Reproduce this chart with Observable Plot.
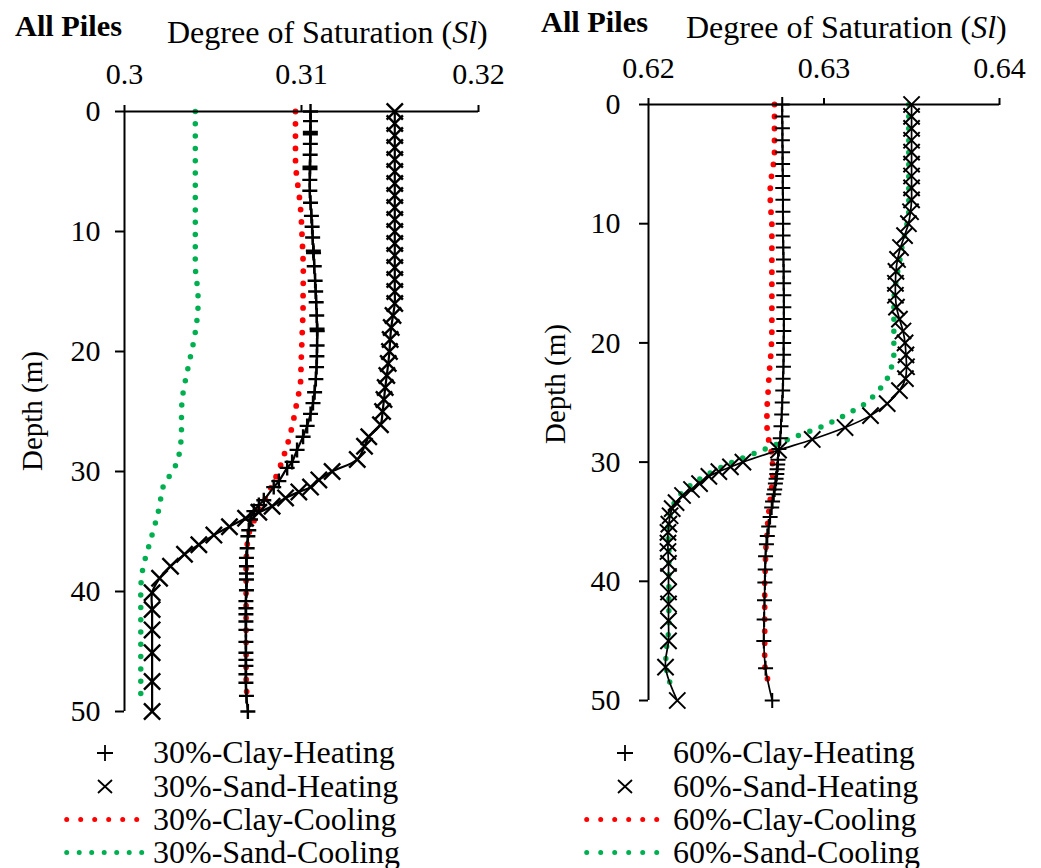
<!DOCTYPE html>
<html><head><meta charset="utf-8">
<script src="https://cdn.jsdelivr.net/npm/d3@7"></script>
<script src="https://cdn.jsdelivr.net/npm/@observablehq/plot@0.6"></script>
<style>
body{margin:0;background:#fff;}
#root{position:relative;width:1041px;height:868px;overflow:hidden;background:#fff;}
#root > *{position:absolute;}
</style></head><body><div id="root"></div>
<script>
// ---------------- DATA ----------------
// x tick labels
const ticksLeft = [0.30, 0.31, 0.32];
const ticksRight = [0.62, 0.63, 0.64];
const depthTicks = [0, 10, 20, 30, 40, 50];
const legendLeft = ["30%-Clay-Heating", "30%-Sand-Heating", "30%-Clay-Cooling", "30%-Sand-Cooling"];
const legendRight = ["60%-Clay-Heating", "60%-Sand-Heating", "60%-Clay-Cooling", "60%-Sand-Cooling"];

// 30% panel
const clay30HeatDepth = [0,0.8,1.7,1.9,2.7,3.6,4.6,4.8,5.7,6.6,7.6,8.7,9.6,10.5,11.6,11.8,12.9,14.1,15,15.9,17,18.1,18.3,19.5,20.4,21.3,22.3,23.4,24.3,25.2,26.2,27.1,28.2,29.2,29.7,30.8,31.3,32.4,32.8,33.3,34,34.9,35.4,36.4,37.2,37.9,38.5,39,39.9,40.8,41.4,41.9,42.5,43.2,44.2,45.1,45.7,46.2,46.9,47.6,48.7,50];
const clay30Heat = [0.31051,0.31051,0.3105,0.3105,0.3105,0.31049,0.31048,0.31048,0.31047,0.31047,0.31051,0.31056,0.3106,0.31063,0.31067,0.31068,0.31072,0.31077,0.3108,0.31083,0.31086,0.31088,0.31089,0.31088,0.31087,0.31085,0.31081,0.31074,0.31065,0.31051,0.31032,0.31009,0.30975,0.30947,0.30919,0.30872,0.30843,0.30787,0.30759,0.30731,0.30712,0.30702,0.30697,0.30693,0.30689,0.30689,0.30689,0.30689,0.30689,0.30686,0.30686,0.30686,0.30686,0.30686,0.30686,0.30686,0.30686,0.30686,0.30686,0.30686,0.30689,0.30697];
const sand30HeatDepth = [0,1,2,3,4,5,6,7,8,9,10,11,12,13,14,15,16,17,18,19,20,21,22,23,24,25,26.1,27.1,27.9,29,30,30.7,31.3,31.7,32.2,32.9,33.4,33.9,34.6,35.3,36.1,36.9,37.9,38.9,40.1,41.5,43.2,45.1,47.5,50];
const sand30Heat = [0.31527,0.31527,0.31527,0.31527,0.31527,0.31527,0.31527,0.31527,0.31527,0.31527,0.31527,0.31527,0.31527,0.31527,0.31527,0.31527,0.31527,0.31517,0.31507,0.31501,0.31497,0.3149,0.31482,0.31473,0.31466,0.31458,0.31446,0.3138,0.31356,0.31315,0.31173,0.31098,0.31051,0.30985,0.3091,0.30834,0.30759,0.30684,0.30593,0.30505,0.3042,0.30339,0.3026,0.30198,0.30156,0.30156,0.30156,0.30156,0.30156,0.30156];
const coolDepth = [0,1,2,3,4,5,6,7,8,9,10,11,12,13,14,15,16,17,18,19,20,21,22,23,24,25,26,27,28,29,30,31,32,33,34,35,36,37,38,39,40,41,42,43,44,45,46,47,48,49];
const clay30Cool = [0.30966,0.30966,0.30966,0.30966,0.30966,0.3097,0.30978,0.30987,0.30994,0.30999,0.31002,0.31005,0.31008,0.3101,0.3101,0.31009,0.31009,0.31008,0.31005,0.31003,0.31,0.30998,0.30996,0.30992,0.30976,0.30965,0.3095,0.30935,0.30915,0.30893,0.30869,0.30838,0.30805,0.3077,0.30735,0.30706,0.30694,0.30689,0.30687,0.30687,0.30687,0.30687,0.30687,0.30687,0.30687,0.30687,0.30687,0.30687,0.30689,0.30693];
const sand30Cool = [0.304,0.304,0.304,0.304,0.304,0.304,0.304,0.304,0.304,0.304,0.304,0.304,0.304,0.304,0.30407,0.30414,0.30416,0.30412,0.30404,0.30393,0.30379,0.30364,0.3035,0.30336,0.30326,0.30322,0.30322,0.30321,0.30315,0.30301,0.30272,0.30225,0.30208,0.30196,0.3018,0.30161,0.30142,0.30122,0.30105,0.30095,0.30092,0.30092,0.30092,0.30092,0.30092,0.30092,0.30092,0.30092,0.30092,0.30092];

// 60% panel
const clay60HeatDepth = [0,1,2,3,4,5,6,7,8,9,10,11,12,13,14,15,16,17,18,19,20,21,22,23,24,25,26,27,28,28.9,29.8,30.2,30.6,31,31.4,31.8,32.3,32.7,33.3,33.8,34.6,35.4,36.2,36.9,37.9,39,40.1,41.6,43.2,45,47.3,50];
const clay60Heat = [0.62762,0.62762,0.62763,0.62763,0.62764,0.62764,0.62765,0.62765,0.62766,0.62766,0.62767,0.62767,0.62768,0.62769,0.6277,0.6277,0.62771,0.62771,0.62771,0.62771,0.6277,0.6277,0.62769,0.62767,0.62765,0.62762,0.62759,0.62755,0.62751,0.62743,0.62738,0.62736,0.62733,0.62731,0.62727,0.62723,0.62719,0.62714,0.62707,0.62702,0.62693,0.62685,0.62677,0.62672,0.62667,0.62665,0.62663,0.62661,0.62659,0.62657,0.62667,0.62705];
const sand60HeatDepth = [0,1,2,3,4,5,6,7,8,9,10,11,12,13,14,15,16,17,18,19,20,21,22,23,24,25.1,26.1,27.1,28.1,29,30,30.4,30.8,31.2,31.8,32.3,32.8,33.4,33.9,34.5,35.2,35.9,36.8,37.5,38.5,39.6,40.9,41.9,43.3,45,47.2,50];
const sand60Heat = [0.63499,0.63499,0.63499,0.63499,0.63499,0.63499,0.63499,0.63499,0.63499,0.63493,0.63481,0.63459,0.63436,0.63419,0.6341,0.63407,0.63407,0.63413,0.6343,0.6345,0.63462,0.63467,0.6347,0.63464,0.6343,0.6336,0.63265,0.6312,0.62933,0.62741,0.62538,0.62467,0.62401,0.62344,0.62291,0.62245,0.62194,0.62157,0.62135,0.62123,0.62116,0.62111,0.62111,0.62111,0.62114,0.62114,0.62114,0.62114,0.62114,0.62114,0.62097,0.62164];
const clay60Cool = [0.62718,0.62718,0.62718,0.62718,0.62718,0.62712,0.62701,0.62694,0.62694,0.62698,0.62703,0.62703,0.62703,0.62703,0.62703,0.62703,0.62703,0.62703,0.62703,0.62703,0.62701,0.62697,0.62691,0.62686,0.62682,0.62677,0.62675,0.62675,0.62683,0.62698,0.62706,0.62708,0.62703,0.62695,0.62687,0.6268,0.62676,0.6267,0.62667,0.62665,0.62662,0.62662,0.62662,0.62662,0.62662,0.62662,0.62662,0.62662,0.62675,0.62693];
const sand60Cool = [0.63483,0.63483,0.63483,0.63483,0.63483,0.63483,0.63483,0.63483,0.63483,0.63483,0.63473,0.63459,0.63444,0.63433,0.6342,0.63409,0.634,0.63398,0.63398,0.63398,0.63398,0.63398,0.63385,0.6336,0.63311,0.63242,0.63128,0.62991,0.62813,0.6265,0.62479,0.62342,0.62235,0.62165,0.62131,0.62116,0.6211,0.62116,0.62116,0.62116,0.62116,0.62116,0.62116,0.62116,0.62116,0.62108,0.621,0.621,0.62111,0.62135];

// ---------------- DRAW ----------------
const FONT = "'Liberation Serif','Times New Roman',serif";
const RED = "#FF0000", GREEN = "#00B050";
const rows = (ds, vs) => ds.map((d, i) => ({depth: d, value: vs[i]}));
const plusSym = {draw(c, size) {const r = Math.sqrt(size / Math.PI); c.moveTo(-r, 0); c.lineTo(r, 0); c.moveTo(0, -r); c.lineTo(0, r);}};
const timesSym = {draw(c, size) {const r = Math.sqrt(size / Math.PI) * 0.72; c.moveTo(-r, -r); c.lineTo(r, r); c.moveTo(-r, r); c.lineTo(r, -r);}};
const fmt = d => String(+d.toFixed(2));

function panel(o) {
  const clayH = rows(o.clayHD, o.clayH), sandH = rows(o.sandHD, o.sandH);
  const clayC = rows(coolDepth, o.clayC), sandC = rows(coolDepth, o.sandC);
  return Plot.plot({
    width: o.width, height: o.height,
    marginLeft: o.ml, marginRight: o.mr, marginTop: o.mt, marginBottom: o.mb,
    style: {fontFamily: FONT, fontSize: "30px", background: "transparent", color: "#000", overflow: "visible"},
    x: {domain: o.domain},
    y: {domain: [0, 50], reverse: true},
    marks: [
      Plot.line(clayC, {x: "value", y: "depth", stroke: RED, strokeWidth: 5.8, strokeDasharray: o.dashC, strokeLinecap: "round", curve: "catmull-rom"}),
      Plot.line(sandC, {x: "value", y: "depth", stroke: GREEN, strokeWidth: 5.5, strokeDasharray: o.dashS, strokeLinecap: "round", curve: "catmull-rom"}),
      Plot.line(clayH, {x: "value", y: "depth", stroke: "#000", strokeWidth: o.lw, curve: "catmull-rom"}),
      Plot.dot(clayH, {x: "value", y: "depth", symbol: plusSym, r: 7.5, stroke: "#000", fill: "none", strokeWidth: o.mw}),
      Plot.line(sandH, {x: "value", y: "depth", stroke: "#000", strokeWidth: o.lw, curve: "catmull-rom"}),
      Plot.dot(sandH, {x: "value", y: "depth", symbol: timesSym, r: 11.3, stroke: "#000", fill: "none", strokeWidth: o.mw}),
      Plot.ruleY([0], {strokeWidth: 2}),
      Plot.ruleX([o.domain[0]], {strokeWidth: 2}),
      Plot.axisX(o.ticks, {anchor: "top", tickSize: 7, tickPadding: o.xpad, tickFormat: fmt, fontSize: 30, strokeWidth: 2, label: null}),
      Plot.axisY(depthTicks, {anchor: "left", tickSize: 9, tickPadding: o.ypad, fontSize: 30, strokeWidth: 2, label: null})
    ]
  });
}

const root = document.getElementById("root");
const left = panel({width: 520, height: 730, ml: 124, mr: 42, mt: 111, mb: 19, domain: [0.30, 0.32], ticks: ticksLeft,
  clayHD: clay30HeatDepth, clayH: clay30Heat, sandHD: sand30HeatDepth, sandH: sand30Heat, clayC: clay30Cool, sandC: sand30Cool,
  lw: 2.2, mw: 2.4, xpad: 21, ypad: 15, dashC: "0 12.3", dashS: "0 12.3"});
left.style.left = "0px"; left.style.top = "0px";
root.appendChild(left);
const right = panel({width: 521, height: 720, ml: 128, mr: 42, mt: 104, mb: 20, domain: [0.62, 0.64], ticks: ticksRight,
  clayHD: clay60HeatDepth, clayH: clay60Heat, sandHD: sand60HeatDepth, sandH: sand60Heat, clayC: clay60Cool, sandC: sand60Cool,
  lw: 1.7, mw: 2, xpad: 20, ypad: 19, dashC: "0 12", dashS: "0 12"});
right.style.left = "520px"; right.style.top = "0px";
root.appendChild(right);

// ---------------- TEXT & LEGEND OVERLAY ----------------
const ov = d3.select(root).append("svg").attr("width", 1041).attr("height", 868)
  .style("left", "0px").style("top", "0px").style("font-family", FONT);

function heading(x0, base0, xt, baset) {
  ov.append("text").attr("x", x0).attr("y", base0).attr("font-weight", "bold").attr("font-size", 29)
    .attr("textLength", 107).attr("lengthAdjust", "spacingAndGlyphs").text("All Piles");
  const t = ov.append("text").attr("x", xt).attr("y", baset).attr("font-size", 32);
  t.append("tspan").text("Degree of Saturation (");
  t.append("tspan").attr("font-style", "italic").text("Sl");
  t.append("tspan").text(")");
}
heading(15, 36, 167, 43);
heading(541, 32, 686, 38);

function ylab(x, y) {
  ov.append("text").attr("transform", `translate(${x},${y}) rotate(-90)`).attr("text-anchor", "middle")
    .attr("font-size", 29).text("Depth (m)");
}
ylab(42, 411);
ylab(565, 384);

function legend(xs, labels) {
  const ys = [753, 786.5, 819.5, 852.5];
  labels.forEach((lab, i) => {
    ov.append("text").attr("x", xs + 153).attr("y", ys[i] + 10).attr("font-size", 32).text(lab);
  });
  const g = ov.append("g").attr("stroke", "#000").attr("stroke-width", 1.8).attr("fill", "none");
  g.append("path").attr("d", `M${xs + 97},${ys[0]}h16M${xs + 105},${ys[0] - 8}v16`);
  g.append("path").attr("d", `M${xs + 98},${ys[1] - 6.5}l14,13M${xs + 98},${ys[1] + 6.5}l14,-13`);
  ov.append("line").attr("x1", xs + 66.7).attr("x2", xs + 137).attr("y1", ys[2]).attr("y2", ys[2])
    .attr("stroke", RED).attr("stroke-width", 5).attr("stroke-linecap", "round").attr("stroke-dasharray", "0 14");
  ov.append("line").attr("x1", xs + 66.7).attr("x2", xs + (xs ? 137 : 142)).attr("y1", ys[3]).attr("y2", ys[3])
    .attr("stroke", GREEN).attr("stroke-width", 5).attr("stroke-linecap", "round").attr("stroke-dasharray", xs ? "0 14" : "0 12.5");
}
legend(0, legendLeft);
legend(520, legendRight);
</script>
</body></html>
